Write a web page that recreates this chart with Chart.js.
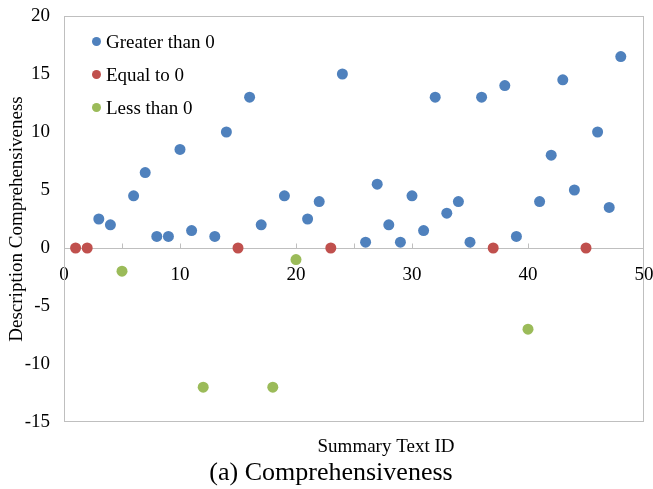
<!DOCTYPE html>
<html>
<head>
<meta charset="utf-8">
<script src="https://cdn.jsdelivr.net/npm/chart.js@4.4.1/dist/chart.umd.min.js"></script>
<style>
  html, body { margin: 0; padding: 0; background: #fff; }
  #wrap { width: 653px; height: 489px; }
</style>
</head>
<body>
<div id="wrap"><canvas id="scatterChart" width="653" height="489"></canvas></div>
<script>
// summary text IDs and their score differences
var greaterIds = [3, 4, 6, 7, 8, 9, 10, 11, 13, 14, 16, 17, 19, 21, 22, 24, 26, 27, 28, 29,
                  30, 31, 32, 33, 34, 35, 36, 38, 39, 41, 42, 43, 44, 46, 47, 48];
var greaterVals = [2.5, 2, 4.5, 6.5, 1, 1, 8.5, 1.5, 1, 10, 13, 2, 4.5, 2.5, 4, 15, 0.5, 5.5, 2, 0.5,
                   4.5, 1.5, 13, 3, 4, 0.5, 13, 14, 1, 4, 8, 14.5, 5, 10, 3.5, 16.5];
var equalIds = [1, 2, 15, 23, 37, 45];
var equalVals = [0, 0, 0, 0, 0, 0];
var lessIds = [5, 12, 18, 20, 40];
var lessVals = [-2, -12, -12, -1, -7];

var seriesNames = ['Greater than 0', 'Equal to 0', 'Less than 0'];
var seriesColors = ['#4F81BD', '#C0504D', '#9BBB59'];
var xTickMarks = [5, 10, 15, 20, 25, 30, 35, 40, 45];

var serif = "'Liberation Serif', 'Times New Roman', serif";

function toPoints(ids, vals) {
    return ids.map(function(id, i) { return { x: id, y: vals[i] }; });
}

// frame, zero line, little tick marks, legend and captions
var extras = {
    id: 'extras',
    beforeDatasetsDraw: function(chart) {
        var ctx = chart.ctx, a = chart.chartArea;
        var xs = chart.scales.x, ys = chart.scales.y;
        ctx.save();
        ctx.strokeStyle = '#BFBFBF';
        ctx.lineWidth = 1;
        ctx.strokeRect(Math.round(a.left) + 0.5, Math.round(a.top) + 0.5,
                       Math.round(a.right - a.left) - 1, Math.round(a.bottom - a.top) - 1);
        var y0 = Math.round(ys.getPixelForValue(0)) + 0.5;
        ctx.beginPath();
        ctx.moveTo(a.left, y0);
        ctx.lineTo(a.right, y0);
        xTickMarks.forEach(function(v) {
            var px = Math.round(xs.getPixelForValue(v)) + 0.5;
            ctx.moveTo(px, y0);
            ctx.lineTo(px, y0 - 5);
        });
        ctx.stroke();
        ctx.restore();
    },
    afterDraw: function(chart) {
        var ctx = chart.ctx;
        ctx.save();
        // legend inside the plot
        chart.data.datasets.forEach(function(ds, i) {
            var cy = 41.5 + i * 33;
            ctx.fillStyle = ds.backgroundColor;
            ctx.beginPath();
            ctx.arc(96.5, cy, 4.5, 0, Math.PI * 2);
            ctx.fill();
            ctx.fillStyle = '#000';
            ctx.font = '19px ' + serif;
            ctx.textAlign = 'left';
            ctx.textBaseline = 'alphabetic';
            ctx.fillText(ds.label, 106, cy + 6.5);
        });
        // axis title and figure caption
        ctx.fillStyle = '#000';
        ctx.textAlign = 'center';
        ctx.textBaseline = 'alphabetic';
        ctx.font = '19px ' + serif;
        ctx.fillText('Summary Text ID', 386, 452);
        ctx.font = '26px ' + serif;
        ctx.fillText('(a) Comprehensiveness', 331, 480);
        ctx.restore();
    }
};

var ctx = document.getElementById('scatterChart').getContext('2d');
new Chart(ctx, {
    type: 'scatter',
    data: {
        datasets: [
            { label: seriesNames[0], data: toPoints(greaterIds, greaterVals),
              backgroundColor: seriesColors[0], borderColor: seriesColors[0] },
            { label: seriesNames[1], data: toPoints(equalIds, equalVals),
              backgroundColor: seriesColors[1], borderColor: seriesColors[1] },
            { label: seriesNames[2], data: toPoints(lessIds, lessVals),
              backgroundColor: seriesColors[2], borderColor: seriesColors[2] }
        ]
    },
    options: {
        responsive: false,
        animation: false,
        layout: { padding: { left: 0, top: 16, right: 9, bottom: 67 } },
        elements: { point: { radius: 5.5, borderWidth: 0, hoverRadius: 5.5 } },
        plugins: {
            legend: { display: false },
            tooltip: { enabled: false }
        },
        scales: {
            x: {
                type: 'linear',
                position: { y: 0 },
                min: 0,
                max: 50,
                grid: { display: false, drawTicks: false },
                border: { display: false },
                ticks: { stepSize: 10, padding: 16, color: '#000', font: { family: serif, size: 19 } },
                afterFit: function(scale) { scale.paddingLeft = 0; scale.paddingRight = 0; }
            },
            y: {
                type: 'linear',
                position: 'left',
                min: -15,
                max: 20,
                grid: { display: false, drawTicks: false },
                border: { display: false },
                ticks: { stepSize: 5, padding: 14, color: '#000', font: { family: serif, size: 19 } },
                title: {
                    display: true,
                    text: 'Description Comprehensiveness',
                    color: '#000',
                    font: { family: serif, size: 19 },
                    padding: { top: 6, bottom: 0 }
                },
                afterFit: function(scale) {
                    scale.width = 64;
                    scale.paddingTop = 0;
                    scale.paddingBottom = 0;
                }
            }
        }
    },
    plugins: [extras]
});
</script>
</body>
</html>
